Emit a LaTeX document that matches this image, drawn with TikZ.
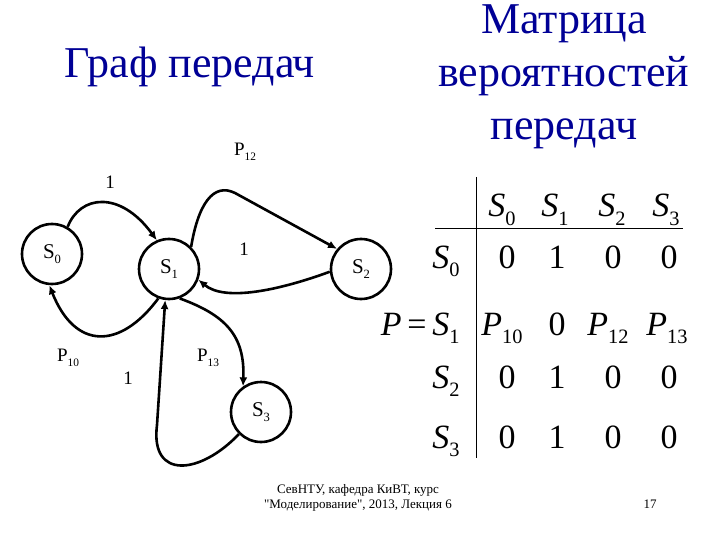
\documentclass[tikz,border=0pt]{standalone}
\usepackage{fontspec}
\setmainfont{Liberation Serif}
\usetikzlibrary{arrows.meta}
\definecolor{titleblue}{RGB}{0,0,150}
\newcommand{\Sub}[2]{#1\raisebox{-0.25em}{\scalebox{0.6}{#2}}}

\begin{document}
\begin{tikzpicture}[x=1pt,y=-1pt]
\tikzset{StateStyle/.style =
	{draw,
		shape = circle,
		line width = 2.6pt,
		minimum size = 60pt,
		inner sep = 0pt,
		font = \fontsize{21}{24}\selectfont},
	EdgeStyle/.style = {line width=2.6pt, -{Latex[length=9pt,width=8pt]}},
	LabelStyle/.style = {font=\fontsize{19}{22}\selectfont},
	CellStyle/.style = {anchor=base, font=\fontsize{34}{40}\selectfont},
	TitleStyle/.style = {text=titleblue, font=\fontsize{44}{53}\selectfont, align=center}}
\useasboundingbox (0,0) rectangle (720,540);
% titles
\node[TitleStyle, anchor=base] (grafT) at (190,78) {Граф передач};
\node[TitleStyle, anchor=base] (matrT) at (564,140) {Матрица\\вероятностей\\передач};
% graph
\node[StateStyle] (S0) at (52,254) {\Sub{S}{0}};
\node[StateStyle] (S1) at (169,269) {\Sub{S}{1}};
\node[StateStyle] (S2) at (361,269) {\Sub{S}{2}};
\node[StateStyle] (S3) at (261,412) {\Sub{S}{3}};
\draw[EdgeStyle] (S0.60) .. controls (80,195) and (120,190) .. (S1.113);
\draw[EdgeStyle] (S1.250) .. controls (120,350) and (75,350) .. (S0.265);
\draw[EdgeStyle] (S1.45) .. controls (198,205) and (213,182) .. (235,193) -- (S2.140);
\draw[EdgeStyle] (S2.185) .. controls (280,290) and (225,302) .. (S1.340);
\draw[EdgeStyle] (S1.290) .. controls (225,315) and (245,335) .. (S3.125);
\draw[EdgeStyle] (S3.225) .. controls (200,475) and (150,480) .. (157,425) -- (S1.263);
\node[LabelStyle] (l01) at (110,182) {1};
\node[LabelStyle] (l12) at (245,152) {\Sub{P}{12}};
\node[LabelStyle] (l21) at (244,249) {1};
\node[LabelStyle] (l10) at (68,358) {\Sub{P}{10}};
\node[LabelStyle] (l31) at (128,378) {1};
\node[LabelStyle] (l13) at (208,358) {\Sub{P}{13}};
% matrix
\draw[line width=1pt] (476,177) -- (476,458);
\draw[line width=1pt] (435,229) -- (683,229);
\node[CellStyle, anchor=base east] (Peq) at (430,335) {\textit{P}\,=};
\node[CellStyle] (h0) at (502,217) {\Sub{\textit{S}}{0}};
\node[CellStyle] (h1) at (555,217) {\Sub{\textit{S}}{1}};
\node[CellStyle] (h2) at (612,217) {\Sub{\textit{S}}{2}};
\node[CellStyle] (h3) at (666,217) {\Sub{\textit{S}}{3}};
\node[CellStyle] (r0) at (446,268) {\Sub{\textit{S}}{0}};
\node[CellStyle] (r1) at (446,335) {\Sub{\textit{S}}{1}};
\node[CellStyle] (r2) at (446,388) {\Sub{\textit{S}}{2}};
\node[CellStyle] (r3) at (446,448) {\Sub{\textit{S}}{3}};
\node[CellStyle] (c00) at (507,268) {0};
\node[CellStyle] (c01) at (557,268) {1};
\node[CellStyle] (c02) at (613,268) {0};
\node[CellStyle] (c03) at (669,268) {0};
\node[CellStyle] (c10) at (502,335) {\Sub{\textit{P}}{10}};
\node[CellStyle] (c11) at (557,335) {0};
\node[CellStyle] (c12) at (608,335) {\Sub{\textit{P}}{12}};
\node[CellStyle] (c13) at (667,335) {\Sub{\textit{P}}{13}};
\node[CellStyle] (c20) at (507,388) {0};
\node[CellStyle] (c21) at (557,388) {1};
\node[CellStyle] (c22) at (613,388) {0};
\node[CellStyle] (c23) at (669,388) {0};
\node[CellStyle] (c30) at (507,448) {0};
\node[CellStyle] (c31) at (557,448) {1};
\node[CellStyle] (c32) at (613,448) {0};
\node[CellStyle] (c33) at (669,448) {0};
% footer
\node[font=\fontsize{13}{15}\selectfont, align=center, anchor=base] (foot) at (358,508)
	{СевНТУ, кафедра КиВТ, курс\\\textquotedbl Моделирование\textquotedbl, 2013, Лекция 6};
\node[font=\fontsize{13}{15}\selectfont, anchor=base] (page) at (650,508) {17};
\end{tikzpicture}
\end{document}
